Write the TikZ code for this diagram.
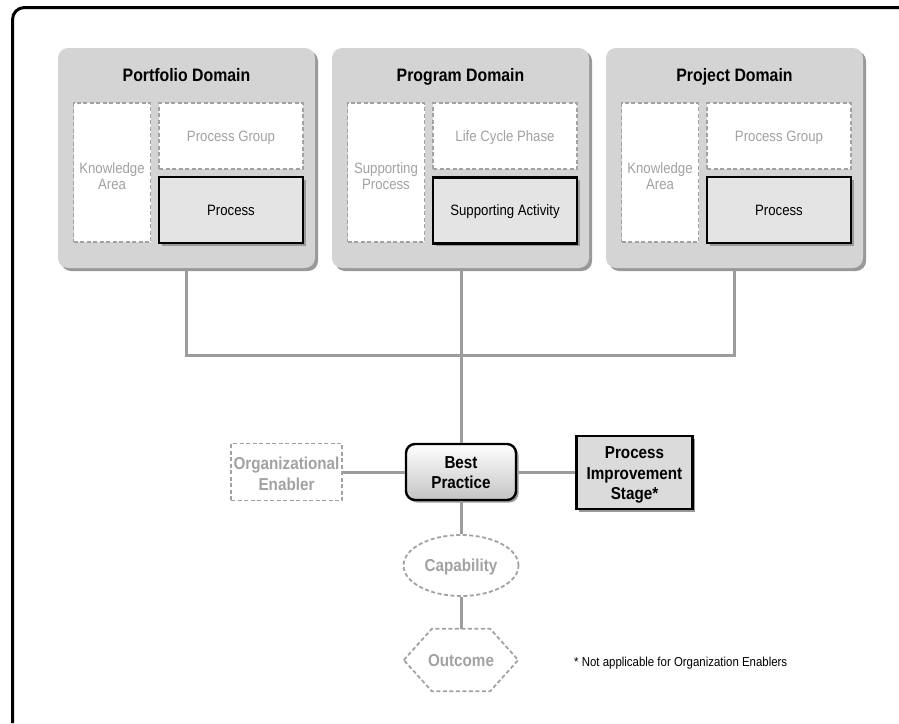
\documentclass[tikz,border=0pt]{standalone}
\usepackage{fontspec}
\setmainfont{Liberation Sans}[FakeStretch=0.88]
\usetikzlibrary{shadows,shapes.geometric}

\definecolor{domfill}{HTML}{D4D4D4}
\definecolor{domshade}{HTML}{999999}
\definecolor{faint}{HTML}{A2A2A2}
\definecolor{wire}{HTML}{9C9C9C}
\definecolor{procfill}{HTML}{E4E4E4}
\definecolor{pisfill}{HTML}{DBDBDB}
\definecolor{bpshade}{HTML}{C4C4C4}

\tikzset{
  domainbox/.style={rectangle, rounded corners=10pt, fill=domfill,
    minimum width=257pt, minimum height=220pt, inner sep=0pt,
    drop shadow={shadow xshift=3pt, shadow yshift=-3pt, fill=domshade, opacity=1}},
  domtitle/.style={font=\fontsize{18}{20}\selectfont\bfseries, inner sep=0pt,
    text height=12.5pt, text depth=0pt},
  dashedline/.style={draw=faint, line width=1.8pt, dash pattern=on 4pt off 2.5pt},
  faintbox/.style={rectangle, dashedline, fill=white, inner sep=0pt},
  faintlabel/.style={text=faint, align=center, inner sep=0pt,
    font=\fontsize{15}{16.5}\selectfont},
  capsline/.style={text height=10.6pt, text depth=0pt},
  solidbox/.style={rectangle, draw=black, fill=procfill, line width=2.4pt,
    inner sep=0pt, font=\fontsize{15}{16.5}\selectfont, capsline,
    minimum width=144pt, minimum height=66pt,
    drop shadow={shadow xshift=2.5pt, shadow yshift=-2.5pt, fill=domshade, opacity=1}},
  lowlabel/.style={font=\fontsize{17.3}{20.6}\selectfont\bfseries, align=center, inner sep=0pt},
  wirestyle/.style={draw=wire, line width=3pt},
}

\begin{document}
\begin{tikzpicture}[x=1pt,y=-1pt]
\useasboundingbox (0,0) rectangle (899,723);

% frame around the sheet
\draw[line width=3pt, rounded corners=12pt] (12.5,723) -- (12.5,7.5) -- (899,7.5);

% --- the three domains ---
\node[domainbox] (port) at (186.5,158) {};
\node[domtitle] (porttitle) at (186.5,75.5) {Portfolio Domain};
\node[faintbox, minimum width=77pt, minimum height=139pt] (portka) at (112,172.5) {};
\node[faintlabel] (portkatext) at (112,176) {Knowledge\\Area};
\node[faintbox, faintlabel, capsline, minimum width=144pt, minimum height=66pt] (portpg) at (231,136) {Process Group};
\node[solidbox] (portpr) at (231,210) {Process};

\node[domainbox] (prog) at (460.5,158) {};
\node[domtitle] (progtitle) at (460.5,75.5) {Program Domain};
\node[faintbox, minimum width=77pt, minimum height=139pt] (progsp) at (386,172.5) {};
\node[faintlabel] (progsptext) at (386,176) {Supporting\\Process};
\node[faintbox, faintlabel, capsline, minimum width=144pt, minimum height=66pt] (proglc) at (505,136) {Life Cycle Phase};
\node[solidbox] (progsa) at (505,210.5) {Supporting Activity};

\node[domainbox] (proj) at (734.5,158) {};
\node[domtitle] (projtitle) at (734.5,75.5) {Project Domain};
\node[faintbox, minimum width=77pt, minimum height=139pt] (projka) at (660,172.5) {};
\node[faintlabel] (projkatext) at (660,176) {Knowledge\\Area};
\node[faintbox, faintlabel, capsline, minimum width=144pt, minimum height=66pt] (projpg) at (779,136) {Process Group};
\node[solidbox] (projpr) at (779,210) {Process};

% --- lower chain ---
\node[rectangle, rounded corners=9pt, draw=black, line width=2.4pt,
      top color=white, bottom color=bpshade, minimum width=110pt, minimum height=56pt,
      drop shadow={shadow xshift=2.5pt, shadow yshift=-2.5pt, fill=domshade, opacity=1}]
      (bp) at (461,472) {};
\node[lowlabel] (bptext) at (461,472.5) {Best\\Practice};

\node[faintbox, minimum width=111pt, minimum height=57pt] (oe) at (286.5,472) {};
\node[lowlabel, text=faint] (oetext) at (286.5,474) {Organizational\\Enabler};

\node[rectangle, draw=black, fill=pisfill, line width=2.4pt,
      minimum width=116pt, minimum height=73pt,
      drop shadow={shadow xshift=2.5pt, shadow yshift=-2.5pt, fill=domshade, opacity=1}]
      (pis) at (634.5,472.5) {};
\node[lowlabel] (pistext) at (634.5,475)
      {Process\\Improvement\\Stage*};

\node[ellipse, dashedline, fill=white, minimum width=115pt, minimum height=61pt, inner sep=0pt,
      lowlabel, text=faint, text height=12.2pt, text depth=0pt] (cap) at (461,565.5) {Capability};

% outcome: a flat-topped hexagon drawn around a bare node
\node[rectangle, minimum width=114pt, minimum height=62pt, inner sep=0pt,
      lowlabel, text=faint, text height=12.2pt, text depth=0pt] (out) at (461,660) {Outcome};
\draw[dashedline, line join=miter]
  (out.west) -- ([xshift=28pt]out.north west) -- ([xshift=-28pt]out.north east)
  -- (out.east) -- ([xshift=-28pt]out.south east) -- ([xshift=28pt]out.south west) -- cycle;

\node[anchor=base west, font=\fontsize{13}{15}\selectfont, inner sep=0pt] (note) at (574,666.5)
  {* Not applicable for Organization Enablers};

% --- connectors ---
\coordinate (junction) at (461,355);
\draw[wirestyle] (port.south) |- (proj.south |- junction) -- (proj.south);
\draw[wirestyle] (prog.south -| junction) -- (bp.north);
\draw[wirestyle] (oe.east) -- (bp.west);
\draw[wirestyle] (bp.east) -- (bp.east -| pis.west);
\draw[wirestyle] (bp.south) -- (cap.north);
\draw[wirestyle] (cap.south) -- (out.north);
\end{tikzpicture}
\end{document}
